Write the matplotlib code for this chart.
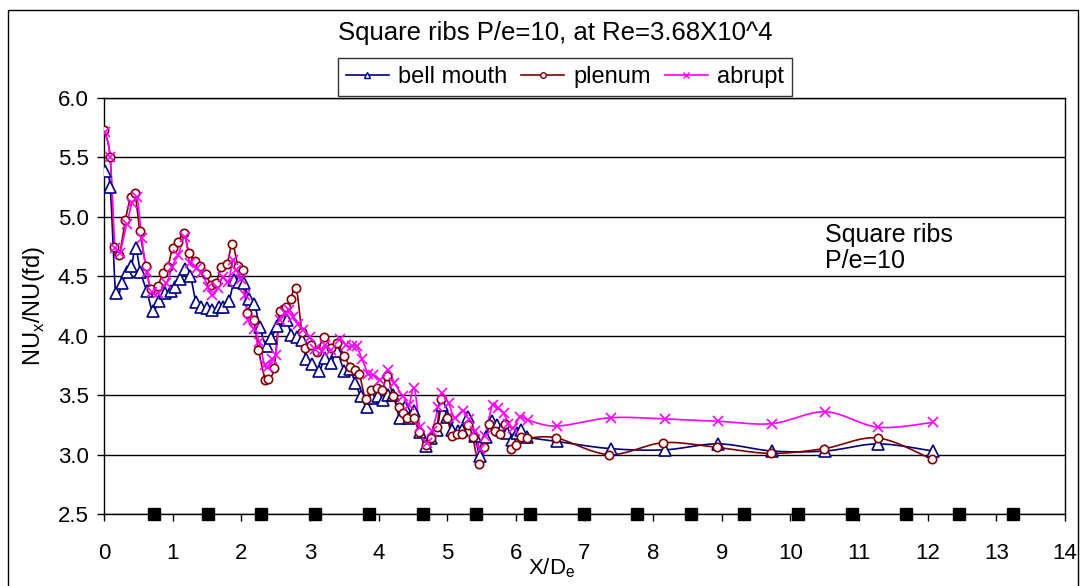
import numpy as np
import matplotlib
matplotlib.use("Agg")
import matplotlib.pyplot as plt
from matplotlib.lines import Line2D
from matplotlib.patches import Rectangle

plt.rcParams['font.family'] = ['Liberation Sans', 'DejaVu Sans']

# bell mouth
bm_x = [0.01, 0.09, 0.17, 0.26, 0.33, 0.40, 0.46, 0.53, 0.62, 0.71, 0.80, 0.89, 0.98, 1.03,
        1.11, 1.18, 1.26, 1.34, 1.41, 1.50, 1.58, 1.67, 1.74, 1.82, 1.90, 1.97, 2.04, 2.11,
        2.19, 2.27, 2.37, 2.44, 2.52, 2.59, 2.66, 2.73, 2.81, 2.88, 2.95, 3.03, 3.13, 3.22,
        3.31, 3.39, 3.50, 3.58, 3.66, 3.74, 3.83, 3.90, 3.99, 4.07, 4.14, 4.21, 4.31, 4.39,
        4.44, 4.52, 4.60, 4.69, 4.77, 4.85, 4.92, 5.00, 5.07, 5.15, 5.22, 5.31, 5.40, 5.48,
        5.56, 5.65, 5.72, 5.79, 5.87, 5.94, 6.01, 6.08, 6.16, 6.60, 7.38, 8.17, 8.95, 9.73,
        10.51, 11.28, 12.07]
bm_y = [5.39, 5.25, 4.36, 4.44, 4.54, 4.59, 4.74, 4.54, 4.38, 4.21, 4.29, 4.36, 4.38, 4.41,
        4.48, 4.56, 4.50, 4.28, 4.24, 4.23, 4.22, 4.24, 4.24, 4.29, 4.47, 4.45, 4.44, 4.31,
        4.27, 4.07, 3.91, 3.98, 4.08, 4.15, 4.13, 4.01, 3.99, 3.96, 3.80, 3.76, 3.70, 3.81,
        3.77, 3.87, 3.70, 3.72, 3.60, 3.49, 3.40, 3.48, 3.49, 3.46, 3.50, 3.50, 3.31, 3.40,
        3.31, 3.37, 3.19, 3.07, 3.14, 3.21, 3.42, 3.32, 3.21, 3.20, 3.21, 3.32, 3.16, 2.99,
        3.15, 3.28, 3.25, 3.21, 3.18, 3.12, 3.18, 3.21, 3.15, 3.11, 3.05, 3.04, 3.09, 3.03,
        3.03, 3.09, 3.03]

# plenum
pl_x = [0.00, 0.09, 0.15, 0.22, 0.31, 0.39, 0.45, 0.52, 0.61, 0.68, 0.78, 0.86, 0.93, 1.00,
        1.08, 1.16, 1.24, 1.32, 1.40, 1.48, 1.56, 1.63, 1.71, 1.79, 1.87, 1.95, 2.02, 2.09,
        2.18, 2.25, 2.35, 2.39, 2.48, 2.56, 2.65, 2.72, 2.80, 2.88, 2.93, 3.02, 3.11, 3.20,
        3.31, 3.39, 3.50, 3.58, 3.66, 3.72, 3.81, 3.89, 3.97, 4.05, 4.13, 4.21, 4.30, 4.36,
        4.42, 4.51, 4.59, 4.69, 4.77, 4.85, 4.91, 5.00, 5.07, 5.14, 5.22, 5.30, 5.37, 5.46,
        5.54, 5.61, 5.70, 5.77, 5.84, 5.93, 6.00, 6.07, 6.16, 6.59, 7.36, 8.15, 8.93, 9.71,
        10.49, 11.27, 12.06]
pl_y = [5.73, 5.50, 4.75, 4.68, 4.97, 5.17, 5.20, 4.88, 4.59, 4.39, 4.42, 4.53, 4.58, 4.74,
        4.79, 4.86, 4.70, 4.63, 4.59, 4.52, 4.43, 4.44, 4.58, 4.60, 4.77, 4.59, 4.55, 4.19,
        4.13, 3.88, 3.63, 3.64, 3.73, 4.21, 4.24, 4.31, 4.40, 4.03, 3.90, 3.92, 3.86, 3.99,
        3.90, 3.94, 3.83, 3.74, 3.71, 3.68, 3.47, 3.54, 3.56, 3.54, 3.66, 3.49, 3.40, 3.35,
        3.31, 3.31, 3.19, 3.08, 3.14, 3.23, 3.47, 3.31, 3.16, 3.17, 3.17, 3.25, 3.15, 2.92,
        3.06, 3.26, 3.20, 3.17, 3.26, 3.05, 3.08, 3.15, 3.14, 3.14, 3.00, 3.10, 3.06, 3.01,
        3.05, 3.14, 2.96]

# abrupt
ab_x = [0.01, 0.09, 0.16, 0.23, 0.33, 0.41, 0.48, 0.55, 0.62, 0.70, 0.79, 0.91, 0.99, 1.08,
        1.18, 1.25, 1.35, 1.42, 1.52, 1.58, 1.66, 1.73, 1.81, 1.88, 1.93, 2.00, 2.05, 2.10,
        2.18, 2.26, 2.34, 2.39, 2.45, 2.50, 2.56, 2.63, 2.70, 2.76, 2.83, 2.90, 3.00, 3.07,
        3.17, 3.22, 3.31, 3.44, 3.53, 3.61, 3.68, 3.76, 3.85, 3.92, 4.02, 4.14, 4.23, 4.36,
        4.44, 4.52, 4.60, 4.70, 4.78, 4.87, 4.92, 5.02, 5.11, 5.23, 5.32, 5.40, 5.48, 5.55,
        5.66, 5.74, 5.82, 5.89, 5.96, 6.06, 6.18, 6.60, 7.38, 8.17, 8.95, 9.73, 10.51, 11.28,
        12.07]
ab_y = [5.71, 5.50, 4.74, 4.70, 4.94, 5.12, 5.17, 4.82, 4.54, 4.37, 4.36, 4.44, 4.58, 4.68,
        4.83, 4.61, 4.57, 4.53, 4.41, 4.34, 4.40, 4.49, 4.45, 4.64, 4.55, 4.48, 4.34, 4.13,
        4.06, 3.95, 3.75, 3.74, 3.80, 3.84, 4.13, 4.19, 4.22, 4.16, 4.10, 4.05, 3.99, 3.89,
        3.87, 3.92, 3.88, 3.97, 3.92, 3.91, 3.91, 3.80, 3.68, 3.67, 3.63, 3.71, 3.60, 3.49,
        3.42, 3.56, 3.23, 3.10, 3.20, 3.40, 3.52, 3.43, 3.31, 3.37, 3.30, 3.20, 3.05, 3.16,
        3.42, 3.39, 3.35, 3.26, 3.22, 3.32, 3.29, 3.24, 3.31, 3.30, 3.28, 3.26, 3.36, 3.23,
        3.27]

# rib positions
rib_x = [0.73, 1.51, 2.29, 3.08, 3.86, 4.64, 5.42, 6.20, 6.99, 7.77, 8.55, 9.33, 10.11,
         10.90, 11.68, 12.46, 13.24]
rib_y = [2.5] * len(rib_x)


def smooth(xs, ys, n=12):
    # excel-style smoothed line (bezier through the points)
    p = np.column_stack([xs, ys]).astype(float)
    p = np.vstack([p[0], p, p[-1]])
    out = []
    for i in range(1, len(p) - 2):
        p0, p1, p2, p3 = p[i - 1], p[i], p[i + 1], p[i + 2]
        c1 = p1 + (p2 - p0) / 6
        c2 = p2 - (p3 - p1) / 6
        t = np.linspace(0, 1, n, endpoint=False)[:, None]
        seg = ((1 - t) ** 3) * p1 + 3 * ((1 - t) ** 2) * t * c1 + 3 * (1 - t) * t ** 2 * c2 + t ** 3 * p2
        out.append(seg)
    out.append(p[-2][None, :])
    out = np.vstack(out)
    return out[:, 0], out[:, 1]


fig = plt.figure(figsize=(10.85, 5.86), dpi=100)
ax = fig.add_axes([104 / 1085, 1 - 514 / 586, (1065 - 104) / 1085, (514 - 98) / 586])

series = [
    (bm_x, bm_y, "#000080", "^", 8, "none", "bell mouth"),
    (pl_x, pl_y, "#800000", "o", 6, "none", "plenum"),
    (ab_x, ab_y, "#FF00FF", "x", 7.5, None, "abrupt"),
]
handles = []
for xs, ys, col, mk, ms, fc, lab in series:
    sx, sy = smooth(xs, ys)
    ax.plot(sx, sy, color=col, lw=1.2, zorder=3)
    if fc == "none":
        ax.plot(xs, ys, ls="none", marker=mk, ms=ms, mfc="white", mec=col, mew=1.2, zorder=4)
    else:
        ax.plot(xs, ys, ls="none", marker=mk, ms=ms, color=col, mew=1.2, zorder=4)
    handles.append(Line2D([], [], color=col, lw=1.2, marker=mk, ms=5 if mk != "o" else 4,
                          mfc="white" if fc == "none" else col, mec=col, mew=1))

ax.plot(rib_x, rib_y, ls="none", marker="s", ms=8, color="black", zorder=5, clip_on=False)

ax.set_xlim(0, 14)
ax.set_ylim(2.5, 6.0)
ax.set_xticks(range(0, 15))
ax.set_yticks(np.arange(2.5, 6.01, 0.5))
ax.set_yticklabels([f"{v:.1f}" for v in np.arange(2.5, 6.01, 0.5)])
ax.tick_params(axis="x", direction="out", length=5, pad=16, labelsize=16, width=1)
ax.tick_params(axis="y", direction="out", length=5, pad=6, labelsize=16, width=1)
ax.yaxis.grid(True, color="black", lw=1)
ax.set_axisbelow(True)
for s in ax.spines.values():
    s.set_color("black")
    s.set_linewidth(1)

ax.set_ylabel(r"NU$_\mathregular{x}$/NU(fd)", fontsize=17, labelpad=8)
fig.text(552 / 1085, 1 - 568 / 586, r"X/D$_\mathregular{e}$", fontsize=16, ha="center", va="center")

ax.text(10.5, 4.95, "Square ribs\nP/e=10", fontsize=18, ha="left", va="top", linespacing=1.12)

fig.text(555 / 1085, 1 - 33 / 586, "Square ribs P/e=10, at Re=3.68X10^4", fontsize=18.5,
         ha="center", va="center")

leg = fig.legend(handles, ["bell mouth", "plenum", "abrupt"], ncol=3, loc="center",
                 bbox_to_anchor=(565 / 1085, 1 - 77 / 586), fontsize=17, frameon=True,
                 fancybox=False, edgecolor="black", handlelength=1.8, handletextpad=0.4,
                 columnspacing=0.6, borderpad=0.35)
leg.get_frame().set_linewidth(1)

fig.patches.append(Rectangle((8 / 1085, -0.1), (1078 - 8) / 1085, 1.1 - 10 / 586,
                             transform=fig.transFigure, fill=False, edgecolor="black", lw=1))

fig.savefig("out.png", dpi=100)
